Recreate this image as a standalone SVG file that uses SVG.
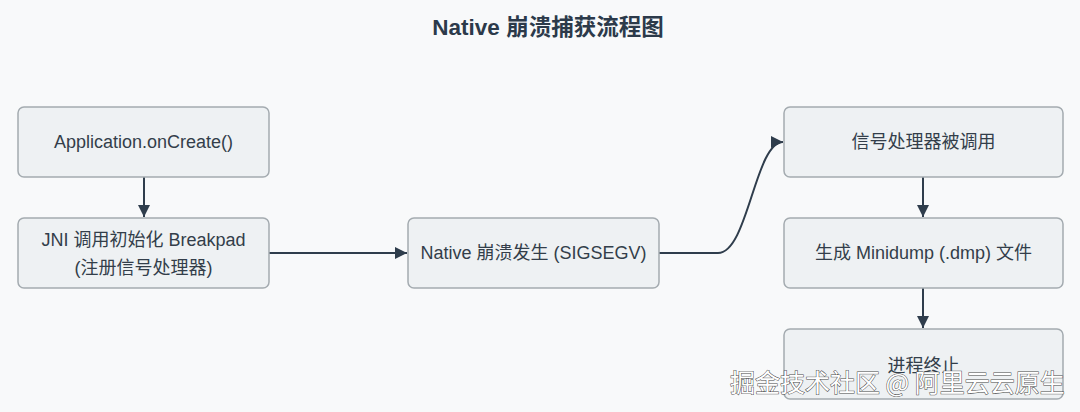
<svg xmlns="http://www.w3.org/2000/svg" width="1080" height="412" viewBox="0 0 1080 412">
<style>
.bg{fill:#f8f9fa}
.node rect{fill:#eef1f3;stroke:#a4abb0;stroke-width:1.5}
.node text{font-family:"Liberation Sans","Noto Sans CJK SC",sans-serif;font-size:18px;fill:#333e4a;text-anchor:middle;dominant-baseline:central}
.title{font-family:"Liberation Sans","Noto Sans CJK SC",sans-serif;font-size:22.5px;font-weight:bold;fill:#2c3a4a;text-anchor:middle}
#connectors path{fill:none;stroke:#2f3d4c;stroke-width:2}
.wm{font-family:"Noto Sans CJK SC",sans-serif;font-size:25px;fill:#ffffff;stroke:#4a4a4a;stroke-width:1;paint-order:stroke}
</style>
<defs>
<marker id="arrow" viewBox="0 0 10 10" refX="10" refY="5" markerWidth="6" markerHeight="6" markerUnits="strokeWidth" orient="auto">
<path d="M0,0 L10,5 L0,10 z" fill="#2f3d4c"/>
</marker>
</defs>
<rect class="bg" x="0" y="0" width="1080" height="412"/>
<text class="title" x="548" y="35">Native 崩溃捕获流程图</text>
<g id="connectors">
<path d="M144,177 L144,217" marker-end="url(#arrow)"/>
<path d="M269,253 L407,253" marker-end="url(#arrow)"/>
<path d="M659,253 L718,253 C748,253 755,142 783,142" marker-end="url(#arrow)"/>
<path d="M923,177 L923,217" marker-end="url(#arrow)"/>
<path d="M923,288 L923,328" marker-end="url(#arrow)"/>
</g>
<g id="n1" class="node"><rect x="18" y="107" width="251" height="70" rx="6"/><text x="143.5" y="142">Application.onCreate()</text></g>
<g id="n2" class="node"><rect x="18" y="218" width="251" height="70" rx="6"/><text x="143.5" y="240">JNI 调用初始化 Breakpad</text><text x="143.5" y="268">(注册信号处理器)</text></g>
<g id="n3" class="node"><rect x="408" y="218" width="251" height="70" rx="6"/><text x="533.5" y="253">Native 崩溃发生 (SIGSEGV)</text></g>
<g id="n4" class="node"><rect x="784" y="107" width="279" height="70" rx="6"/><text x="923.5" y="142">信号处理器被调用</text></g>
<g id="n5" class="node"><rect x="784" y="218" width="279" height="70" rx="6"/><text x="923.5" y="253">生成 Minidump (.dmp) 文件</text></g>
<g id="n6" class="node"><rect x="784" y="329" width="279" height="70" rx="6"/><text x="923.5" y="366">进程终止</text></g>
<text class="wm" x="730" y="392">掘金技术社区 @ 阿里云云原生</text>
</svg>
